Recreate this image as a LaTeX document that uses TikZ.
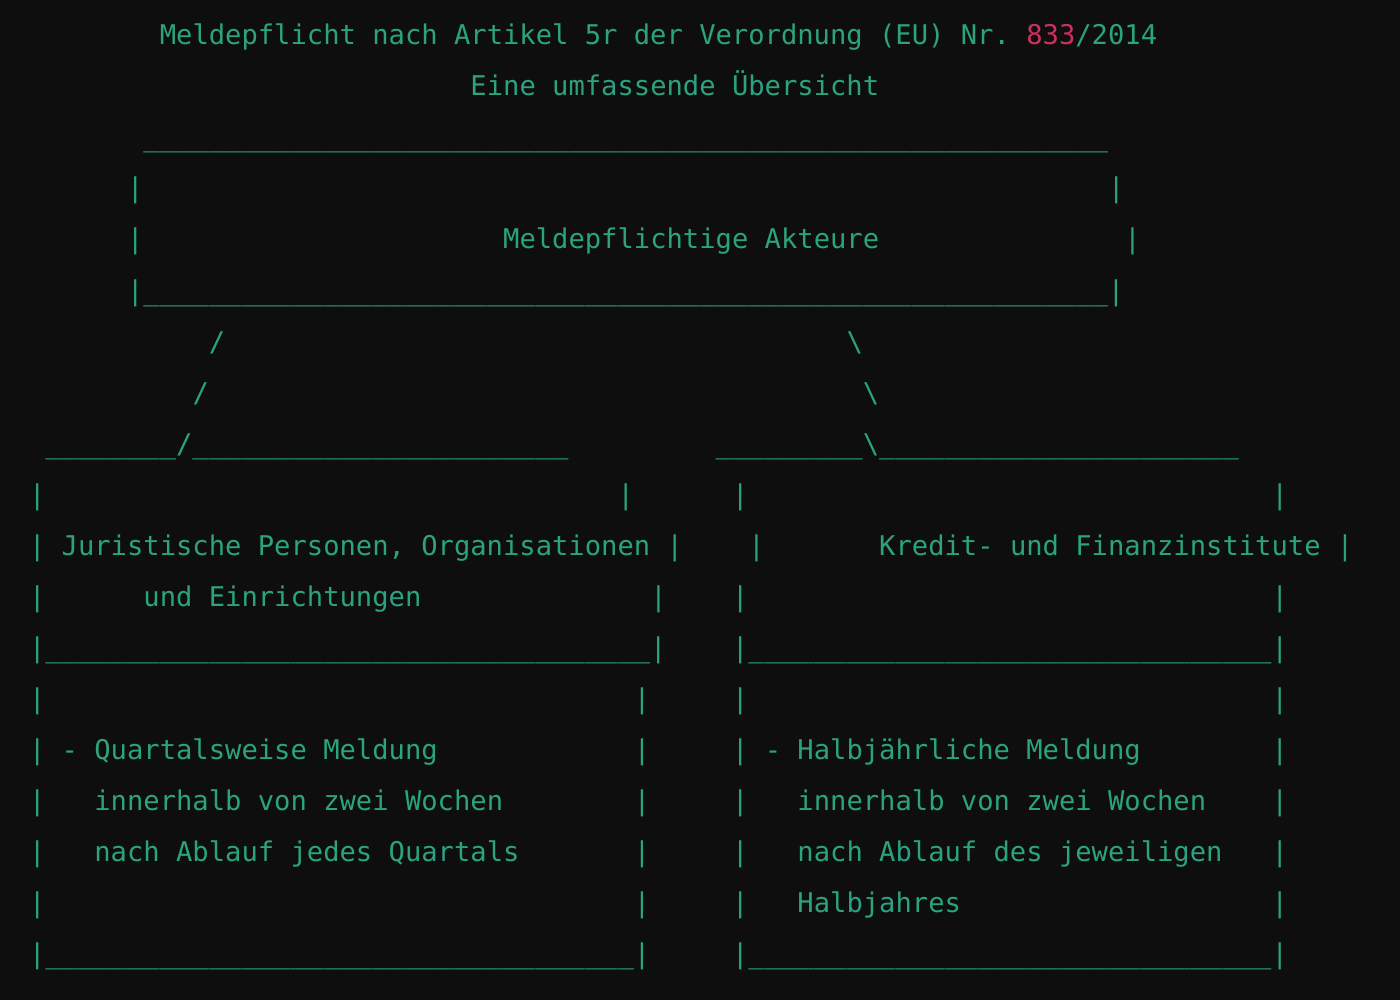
\documentclass[tikz,border=0pt]{standalone}
\usepackage{fontspec}
\setmonofont{DejaVu Sans Mono}
\definecolor{bgc}{HTML}{0E0E0E}
\definecolor{fg}{HTML}{2AA37E}
\definecolor{hl}{HTML}{C8325E}
\ExplSyntaxOn
\cs_new:Npn \usrun #1 { \prg_replicate:nn {#1} { \textunderscore } }
\ExplSyntaxOff
\frenchspacing
\tikzset{txt/.style={inner sep=0pt, outer sep=0pt, anchor=base west, text=fg,
  font=\ttfamily\fontsize{13.578pt}{25.5pt}\selectfont}}
\newcommand\seg[4]{\node[txt] (#1) at ({14.5pt+#3*8.175pt},{-22.5pt-#2*25.5pt}) {#4};}
\begin{document}
\begin{tikzpicture}
\fill[bgc] (0,0) rectangle (700pt,-500pt);
\useasboundingbox (0,0) rectangle (700pt,-500pt);
% title
\seg{title}{0}{8}{Meldepflicht nach Artikel 5r der Verordnung (EU) Nr. \textcolor{hl}{833}/2014}
\seg{subtitle}{1}{27}{Eine umfassende Übersicht}
% top box
\seg{topA}{2}{7}{\usrun{59}}
\seg{topBl}{3}{6}{|}
\seg{topBr}{3}{66}{|}
\seg{topCl}{4}{6}{|}
\seg{topLabel}{4}{29}{Meldepflichtige Akteure}
\seg{topCr}{4}{67}{|}
\seg{topD}{5}{6}{|\usrun{59}|}
% branches
\seg{brL1}{6}{11}{/}
\seg{brR1}{6}{50}{\textbackslash}
\seg{brL2}{7}{10}{/}
\seg{brR2}{7}{51}{\textbackslash}
\seg{brL3}{8}{1}{\usrun{8}/\usrun{23}}
\seg{brR3}{8}{42}{\usrun{9}\textbackslash\usrun{22}}
% left / right boxes, upper part
\seg{l9a}{9}{0}{|}
\seg{l9b}{9}{36}{|}
\seg{r9a}{9}{43}{|}
\seg{r9b}{9}{76}{|}
\seg{leftLabel}{10}{0}{| Juristische Personen, Organisationen |}
\seg{r10a}{10}{44}{|}
\seg{rightLabel}{10}{52}{Kredit- und Finanzinstitute |}
\seg{l11a}{11}{0}{|}
\seg{leftLabelB}{11}{7}{und Einrichtungen}
\seg{l11b}{11}{38}{|}
\seg{r11a}{11}{43}{|}
\seg{r11b}{11}{76}{|}
\seg{l12}{12}{0}{|\usrun{37}|}
\seg{r12}{12}{43}{|\usrun{32}|}
% lower part
\seg{l13a}{13}{0}{|}
\seg{l13b}{13}{37}{|}
\seg{r13a}{13}{43}{|}
\seg{r13b}{13}{76}{|}
\seg{l14a}{14}{0}{| - Quartalsweise Meldung}
\seg{l14b}{14}{37}{|}
\seg{r14a}{14}{43}{| - Halbjährliche Meldung}
\seg{r14b}{14}{76}{|}
\seg{l15a}{15}{0}{|}
\seg{l15t}{15}{4}{innerhalb von zwei Wochen}
\seg{l15b}{15}{37}{|}
\seg{r15a}{15}{43}{|}
\seg{r15t}{15}{47}{innerhalb von zwei Wochen}
\seg{r15b}{15}{76}{|}
\seg{l16a}{16}{0}{|}
\seg{l16t}{16}{4}{nach Ablauf jedes Quartals}
\seg{l16b}{16}{37}{|}
\seg{r16a}{16}{43}{|}
\seg{r16t}{16}{47}{nach Ablauf des jeweiligen}
\seg{r16b}{16}{76}{|}
\seg{l17a}{17}{0}{|}
\seg{l17b}{17}{37}{|}
\seg{r17a}{17}{43}{|}
\seg{r17t}{17}{47}{Halbjahres}
\seg{r17b}{17}{76}{|}
\seg{l18}{18}{0}{|\usrun{36}|}
\seg{r18}{18}{43}{|\usrun{32}|}
\end{tikzpicture}
\end{document}
